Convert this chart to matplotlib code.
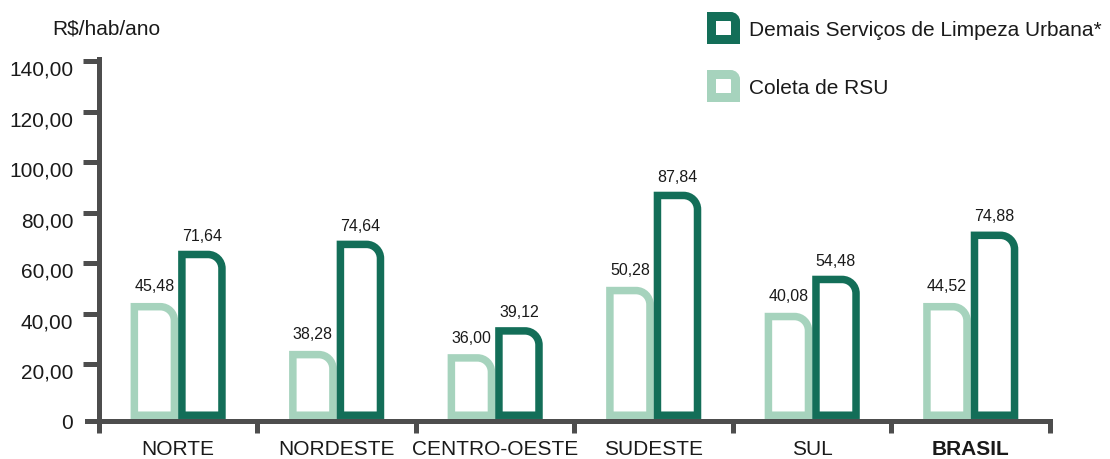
import numpy as np
import matplotlib
matplotlib.use('Agg')
import matplotlib.pyplot as plt
from matplotlib.path import Path
from matplotlib.patches import PathPatch
from matplotlib.transforms import Affine2D, ScaledTranslation

plt.rcParams['font.family'] = ['Liberation Sans', 'DejaVu Sans']

# data
regions = ['NORTE', 'NORDESTE', 'CENTRO-OESTE', 'SUDESTE', 'SUL', 'BRASIL']
coleta = [44.2, 25.2, 23.9, 50.6, 40.3, 44.2]          # drawn bar heights
demais = [64.9, 68.9, 34.6, 88.3, 55.0, 72.5]
coleta_lbl = ['45,48', '38,28', '36,00', '50,28', '40,08', '44,52']
demais_lbl = ['71,64', '74,64', '39,12', '87,84', '54,48', '74,88']
yticks = [0, 20, 40, 60, 80, 100, 120, 140]
ytick_lbl = ['0', '20,00', '40,00', '60,00', '80,00', '100,00', '120,00', '140,00']

c_dark = '#136e58'
c_light = '#a6d3bd'
c_axis = '#4d4d4d'
c_text = '#1a1a1a'

W, H = 1110, 460


def bar_path(x0, x1, y0, y1, rx, ry):
    # rectangle with only the top-right corner rounded
    k = 0.5523
    verts = [(x0, y0), (x0, y1), (x1 - rx, y1),
             (x1 - rx + k * rx, y1), (x1, y1 - ry + k * ry), (x1, y1 - ry),
             (x1, y0), (x0, y0)]
    codes = [Path.MOVETO, Path.LINETO, Path.LINETO,
             Path.CURVE4, Path.CURVE4, Path.CURVE4,
             Path.LINETO, Path.CLOSEPOLY]
    return Path(verts, codes)


fig = plt.figure(figsize=(W / 100, H / 100), dpi=100)
ybot = -2.6
ax = fig.add_axes([87 / W, (H - 422) / H, (1050 - 87) / W, (422 - 62.3) / H])
ax.set_xlim(-0.575, 5.5)
ax.set_ylim(ybot, 140)

# pixel size of one data unit
p0 = ax.transData.transform((0, 0))
p1 = ax.transData.transform((1, 1))
pxx, pxy = (p1 - p0)

lw_px = 7.5
sx = lw_px / pxx
sy = lw_px / pxy
r_px = 14
rx, ry = r_px / pxx, r_px / pxy
bw = 0.3
y_base = -1.8 + sy / 2

x = np.arange(len(regions))
for i in x:
    for h, lbl, col, side in [(coleta[i], coleta_lbl[i], c_light, -1),
                              (demais[i], demais_lbl[i], c_dark, 1)]:
        if side < 0:
            x0, x1 = i - bw + sx / 2, i - sx / 2
        else:
            x0, x1 = i + sx / 2, i + bw - sx / 2
        p = bar_path(x0, x1, y_base, h - sy / 2, rx, ry)
        ax.add_patch(PathPatch(p, facecolor='white', edgecolor=col,
                               lw=lw_px * 72 / 100, joinstyle='miter',
                               zorder=3, clip_on=False))
        ax.annotate(lbl, ((x0 + x1) / 2, h), xytext=(0, 8 if side > 0 else 9),
                    textcoords='offset points', ha='center', va='baseline',
                    fontsize=11.5, color=c_text, zorder=4)

# axes styling
for s in ['top', 'right']:
    ax.spines[s].set_visible(False)
ax.spines['left'].set_position(('data', -0.5))
ax.spines['left'].set_bounds(ybot, 140.8)
for s in ['left', 'bottom']:
    ax.spines[s].set_color(c_axis)
    ax.spines[s].set_linewidth(3.6)
    ax.spines[s].set_zorder(2)

ax.set_yticks(yticks)
ax.set_yticklabels(ytick_lbl)
ax.tick_params(axis='y', direction='out', length=11.5, width=3.6,
               color=c_axis, labelsize=15, pad=7, labelcolor=c_text)
ax.yaxis.get_major_ticks()[0].tick1line.set_visible(False)
off = ScaledTranslation(0, -6 / 100, fig.dpi_scale_trans)
for t in ax.get_yticklabels():
    t.set_transform(t.get_transform() + off)

ax.set_xticks(np.arange(-0.5, 6, 1))
ax.set_xticklabels([])
ax.tick_params(axis='x', direction='out', length=8.5, width=3.6, color=c_axis)
ax.set_xticks(x, minor=True)
ax.set_xticklabels(regions, minor=True)
ax.tick_params(axis='x', which='minor', length=0, labelsize=15, pad=13,
               labelcolor=c_text)
ax.get_xticklabels(minor=True)[-1].set_fontweight('bold')

fig.text(52 / W, (H - 29) / H, 'R$/hab/ano', fontsize=15, va='center',
         ha='left', color=c_text)

# legend drawn by hand with the same bar shape
pix = Affine2D().scale(1 / W, 1 / H) + fig.transFigure
leg = [('Demais Serviços de Limpeza Urbana*', c_dark, 29),
       ('Coleta de RSU', c_light, 87)]
for txt, col, yc in leg:
    s = 9
    lx0, lx1 = 707 + s / 2, 740 - s / 2
    ly0, ly1 = H - (yc + 16) + s / 2, H - (yc - 16) - s / 2
    ax_p = bar_path(lx0, lx1, ly0, ly1, 5, 5)
    fig.add_artist(PathPatch(ax_p, facecolor='white', edgecolor=col,
                             lw=s * 0.72, joinstyle='miter', transform=pix))
    fig.text(749 / W, (H - yc - 2) / H, txt, fontsize=15, va='center',
             ha='left', color=c_text)

fig.savefig('out.png', dpi=100)
